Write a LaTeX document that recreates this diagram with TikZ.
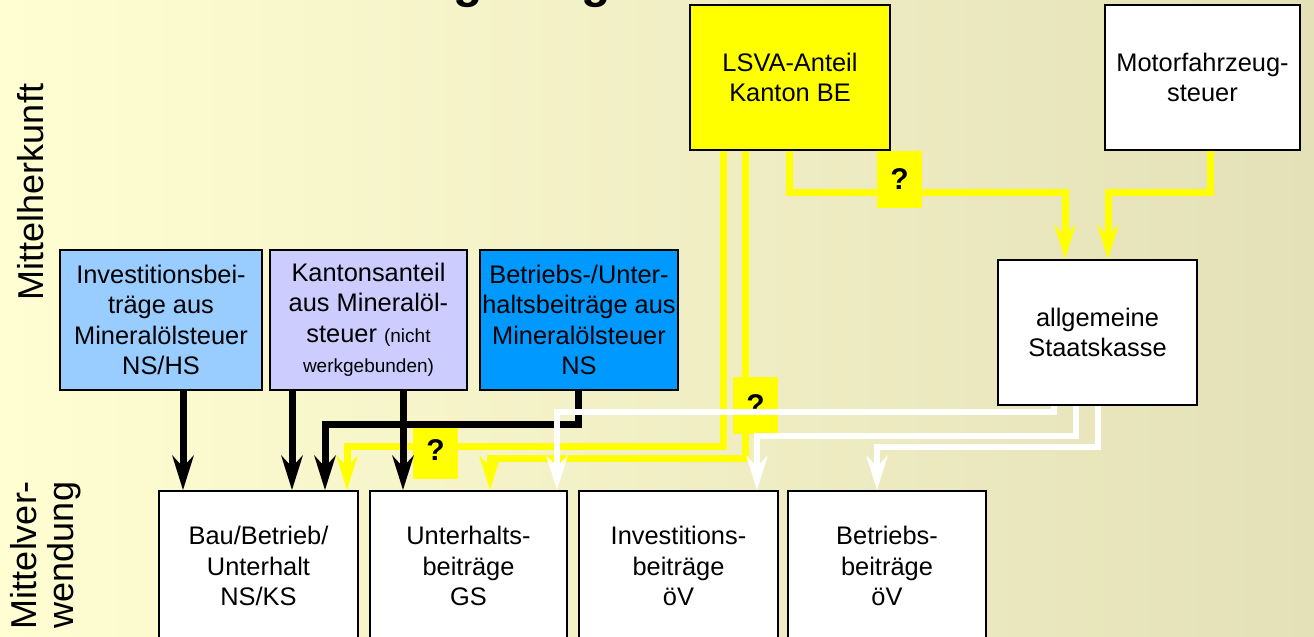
\documentclass[tikz,border=0pt]{standalone}
\usepackage{fontspec}
\setmainfont{Liberation Sans}
\usetikzlibrary{arrows.meta}
\definecolor{bgl}{HTML}{FFFDD2}
\definecolor{bgr}{HTML}{E4E1B8}
\definecolor{hellblau}{HTML}{99CCFF}
\definecolor{lila}{HTML}{CCCCFF}
\definecolor{blau}{HTML}{0099FF}
\definecolor{gelb}{HTML}{FFFF00}
\newcommand{\klein}{\fontsize{9.5}{11}\selectfont}

\begin{document}
\begin{tikzpicture}[x=0.5pt, y=-0.5pt,
    kasten/.style={draw=black, line width=1pt, align=center, inner sep=0pt, font=\fontsize{12.7}{15.25}\selectfont},
    frage/.style={fill=gelb, minimum width=22.5pt, minimum height=28.5pt, inner sep=0pt, font=\fontsize{15}{18}\selectfont\bfseries},
    spitze/.style={-{Stealth[length=17.5pt, width=11pt, inset=6pt, line width=0pt]}},
    schwarz/.style={spitze, line width=3.5pt, black},
    gelbpfeil/.style={spitze, line width=3.5pt, gelb},
    weiss/.style={spitze, line width=3pt, white}]
    % Hintergrund
    \useasboundingbox (0,0) rectangle (1314,637);
    \clip (0,0) rectangle (1314,637);
    \shade[left color=bgl, right color=bgr] (0,0) rectangle (1314,637);
    \node[anchor=base west, inner sep=0pt, font=\fontsize{24}{28}\selectfont\bfseries] (titel) at (392,-3) {Regelung};
    \node[rotate=90, font=\fontsize{18}{21}\selectfont] (herkunft) at (31,192) {Mittelherkunft};
    \node[rotate=90, align=center, font=\fontsize{18}{18.5}\selectfont] (verwendung) at (46,555) {Mittelver-\\wendung};

    % Mittelherkunft
    \node[kasten, fill=gelb, minimum width=100pt, minimum height=72.5pt] (lsva) at (790,77.5) {LSVA-Anteil\\Kanton BE};
    \node[kasten, fill=white, minimum width=97.5pt, minimum height=72.5pt] (mfz) at (1202.5,77.5) {Motorfahrzeug-\\steuer};
    \node[kasten, fill=hellblau, minimum width=101pt, minimum height=70pt] (inv) at (161,320) {Investitionsbei-\\träge aus\\Mineralölsteuer\\NS/HS};
    \node[kasten, fill=lila, minimum width=98.5pt, minimum height=70pt] (kant) at (368.5,320) {Kantonsanteil\\aus Mineralöl-\\steuer {\klein(nicht}\\{\klein werkgebunden)}};
    \node[kasten, fill=blau, minimum width=99pt, minimum height=70pt] (betr) at (579,320) {Betriebs-/Unter-\\haltsbeiträge aus\\Mineralölsteuer\\NS};
    \node[kasten, fill=white, minimum width=99.5pt, minimum height=72.5pt] (kasse) at (1097.5,332.5) {allgemeine\\Staatskasse};

    % Mittelverwendung
    \node[kasten, fill=white, minimum width=99.5pt, minimum height=75pt] (bau) at (258.5,566) {Bau/Betrieb/\\Unterhalt\\NS/KS};
    \node[kasten, fill=white, minimum width=98.5pt, minimum height=75pt] (unt) at (468.5,566) {Unterhalts-\\beiträge\\GS};
    \node[kasten, fill=white, minimum width=99.5pt, minimum height=75pt] (invoev) at (678.5,566) {Investitions-\\beiträge\\öV};
    \node[kasten, fill=white, minimum width=99pt, minimum height=75pt] (betroev) at (887,566) {Betriebs-\\beiträge\\öV};

    % LSVA und Motorfahrzeugsteuer
    \draw[gelbpfeil] ([xshift=-33.5pt]lsva.south) |- ([xshift=44.25pt,yshift=22pt]bau.north) -- ([xshift=44.25pt]bau.north);
    \draw[gelbpfeil] ([xshift=-22.5pt]lsva.south) |- ([xshift=10.75pt,yshift=16pt]unt.north) -- ([xshift=10.75pt]unt.north);
    \draw[gelbpfeil] ([xshift=-0.5pt]lsva.south) |- ([xshift=-16.25pt,yshift=33.5pt]kasse.north) -- ([xshift=-16.25pt]kasse.north);
    \draw[gelbpfeil] ([xshift=3.75pt]mfz.south) |- ([xshift=5.25pt,yshift=33.5pt]kasse.north) -- ([xshift=5.25pt]kasse.north);
    \node[frage] (q1) at (899.5,179) {?};
    \node[frage] (q2) at (755.5,405.5) {?};
    \node[frage] (q3) at (435.5,450.5) {?};

    % Mineraloelsteuer
    \draw[schwarz] ([xshift=11pt]inv.south) -- ([xshift=-37.75pt]bau.north);
    \draw[schwarz] ([xshift=-38.25pt]kant.south) -- ([xshift=16.75pt]bau.north);
    \draw[schwarz] ([xshift=17.25pt]kant.south) -- ([xshift=-32.75pt]unt.north);
    \draw[schwarz] ([xshift=-0.5pt]betr.south) |- ([xshift=33.25pt,yshift=33pt]bau.north) -- ([xshift=33.25pt]bau.north);

    % Staatskasse
    \draw[weiss] ([xshift=-21.75pt]kasse.south) |- ([xshift=44.25pt,yshift=39pt]unt.north) -- ([xshift=44.25pt]unt.north);
    \draw[weiss] ([xshift=-10.75pt]kasse.south) |- ([xshift=39.25pt,yshift=27pt]invoev.north) -- ([xshift=39.25pt]invoev.north);
    \draw[weiss] ([xshift=0.25pt]kasse.south) |- ([xshift=-5pt,yshift=21.5pt]betroev.north) -- ([xshift=-5pt]betroev.north);
\end{tikzpicture}
\end{document}
